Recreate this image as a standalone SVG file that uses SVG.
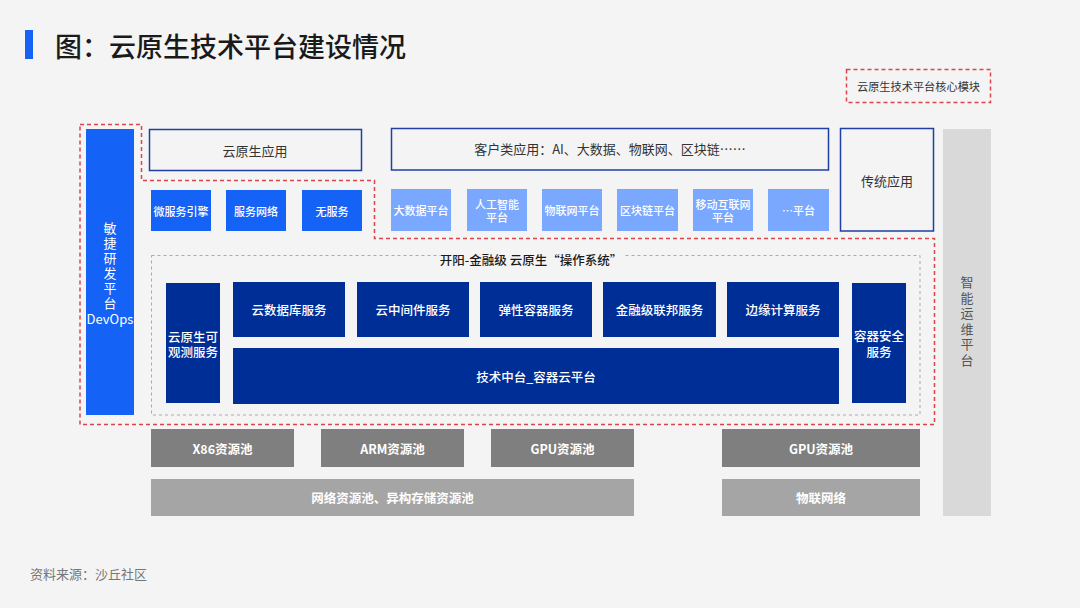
<svg xmlns="http://www.w3.org/2000/svg" width="1080" height="608" viewBox="0 0 1080 608">
<style>
text{font-family:"Noto Sans CJK SC","Liberation Sans",sans-serif;dominant-baseline:central;text-anchor:middle}
.app{fill:none;stroke:#1f3fa3;stroke-width:1.5}
.app-t{font-size:13px;fill:#333}
.blue{fill:#1463f6}
.lblue{fill:#7aa8ff}
.navy{fill:#002e97}
.wt{font-size:12.5px;fill:#fff;font-weight:500}
.st{font-size:11px;fill:#fff;font-weight:500}
.pool{fill:#7f7f7f}
.pool2{fill:#a5a5a5}
.pt{font-size:12.5px;fill:#fff;font-weight:700}
.vt{font-size:13px;writing-mode:vertical-rl;text-orientation:upright;letter-spacing:2px;text-anchor:start}
</style>
<rect width="1080" height="608" fill="#f4f4f4"/>
<rect x="25" y="30" width="8" height="29" fill="#1463f6"/>
<text x="55" y="45" style="text-anchor:start;font-size:27px;fill:#1a1a1a;font-weight:500">图：云原生技术平台建设情况</text>

<g id="legend">
<rect x="846.5" y="69.5" width="144" height="33" fill="none" stroke="#d9454a" stroke-width="1.5" stroke-dasharray="4,3"/>
<text x="918.5" y="86" style="font-size:11.2px;fill:#333">云原生技术平台核心模块</text>
</g>

<g id="core-outline">
<path d="M80,124.5 H141.5 V180.5 H374.5 V238.5 H934.5 V424.5 H80 Z" fill="none" stroke="#d9454a" stroke-width="1.5" stroke-dasharray="4,3"/>
</g>

<g id="devops">
<rect x="86" y="129" width="48" height="286" class="blue"/>
<text x="110" y="221.5" class="vt" fill="#fff">敏捷研发平台</text>
<text x="110" y="318" style="font-size:13px;fill:#fff">DevOps</text>
</g>

<g id="cloud-native-app">
<rect x="149.5" y="129.5" width="212" height="41" class="app"/>
<text x="255" y="150" class="app-t">云原生应用</text>
</g>
<g id="customer-app">
<rect x="391.5" y="128.5" width="437" height="41.5" class="app"/>
<text x="610" y="148.5" class="app-t">客户类应用：AI、大数据、物联网、区块链……</text>
</g>
<g id="traditional-app">
<rect x="840.5" y="128.5" width="93" height="102.5" class="app"/>
<text x="887" y="180" class="app-t">传统应用</text>
</g>

<g id="microservice"><rect x="151" y="190" width="60" height="41" class="blue"/><text x="181" y="210.5" class="st">微服务引擎</text></g>
<g id="service-mesh"><rect x="226" y="190" width="60" height="41" class="blue"/><text x="256" y="210.5" class="st">服务网络</text></g>
<g id="serverless"><rect x="302" y="190" width="60" height="41" class="blue"/><text x="332" y="210.5" class="st">无服务</text></g>

<g id="bigdata"><rect x="391" y="189" width="60" height="42" class="lblue"/><text x="421" y="210" class="st">大数据平台</text></g>
<g id="ai"><rect x="467" y="189" width="60" height="42" class="lblue"/><text x="497" y="203.5" class="st">人工智能<tspan x="497" dy="13.5">平台</tspan></text></g>
<g id="iot"><rect x="542" y="189" width="60" height="42" class="lblue"/><text x="572" y="210" class="st">物联网平台</text></g>
<g id="blockchain"><rect x="617" y="189" width="61" height="42" class="lblue"/><text x="647.5" y="210" class="st">区块链平台</text></g>
<g id="mobile"><rect x="693" y="189" width="60" height="42" class="lblue"/><text x="723" y="203.5" class="st">移动互联网<tspan x="723" dy="13.5">平台</tspan></text></g>
<g id="more"><rect x="768" y="189" width="61" height="42" class="lblue"/><text x="798.5" y="210" class="st">…平台</text></g>

<g id="os-frame">
<rect x="151.5" y="255.5" width="768.5" height="159.5" fill="none" stroke="#aaa" stroke-width="1" stroke-dasharray="3,3"/>
<rect x="440" y="250" width="183" height="12" fill="#f4f4f4"/>
<text x="531" y="259" style="font-size:12.5px;fill:#1a1a1a;font-weight:500">开阳-金融级 云原生“操作系统”</text>
</g>

<g id="observability"><rect x="166" y="283" width="54" height="120" class="navy"/><text x="193" y="336" class="wt">云原生可<tspan x="193" dy="15">观测服务</tspan></text></g>
<g id="cloud-db"><rect x="233" y="282" width="112" height="55" class="navy"/><text x="289" y="309.5" class="wt">云数据库服务</text></g>
<g id="middleware"><rect x="357" y="282" width="112" height="55" class="navy"/><text x="413" y="309.5" class="wt">云中间件服务</text></g>
<g id="elastic"><rect x="480" y="282" width="112" height="55" class="navy"/><text x="536" y="309.5" class="wt">弹性容器服务</text></g>
<g id="federation"><rect x="603" y="282" width="113" height="55" class="navy"/><text x="659.5" y="309.5" class="wt">金融级联邦服务</text></g>
<g id="edge"><rect x="727" y="282" width="112" height="55" class="navy"/><text x="783" y="309.5" class="wt">边缘计算服务</text></g>
<g id="container-cloud"><rect x="233" y="348" width="606" height="56" class="navy"/><text x="536" y="376" class="wt">技术中台_容器云平台</text></g>
<g id="security"><rect x="852" y="283" width="54" height="120" class="navy"/><text x="879" y="335" class="wt">容器安全<tspan x="879" dy="16">服务</tspan></text></g>

<g id="aiops">
<rect x="943" y="129" width="48" height="387" fill="#d9d9d9"/>
<text x="967" y="276" class="vt" style="letter-spacing:2.5px" fill="#555">智能运维平台</text>
</g>

<g id="x86"><rect x="151" y="429" width="143" height="38" class="pool"/><text x="222.5" y="448" class="pt">X86资源池</text></g>
<g id="arm"><rect x="321" y="429" width="143" height="38" class="pool"/><text x="392.5" y="448" class="pt">ARM资源池</text></g>
<g id="gpu1"><rect x="491" y="429" width="143" height="38" class="pool"/><text x="562.5" y="448" class="pt">GPU资源池</text></g>
<g id="gpu2"><rect x="722" y="429" width="198" height="38" class="pool"/><text x="821" y="448" class="pt">GPU资源池</text></g>
<g id="network"><rect x="151" y="479" width="483" height="37" class="pool2"/><text x="392.5" y="497.5" class="pt">网络资源池、异构存储资源池</text></g>
<g id="iot-net"><rect x="722" y="479" width="198" height="37" class="pool2"/><text x="821" y="497.5" class="pt">物联网络</text></g>

<g id="connectors"></g>

<text x="30" y="573" style="text-anchor:start;font-size:13px;fill:#777">资料来源：沙丘社区</text>
</svg>
